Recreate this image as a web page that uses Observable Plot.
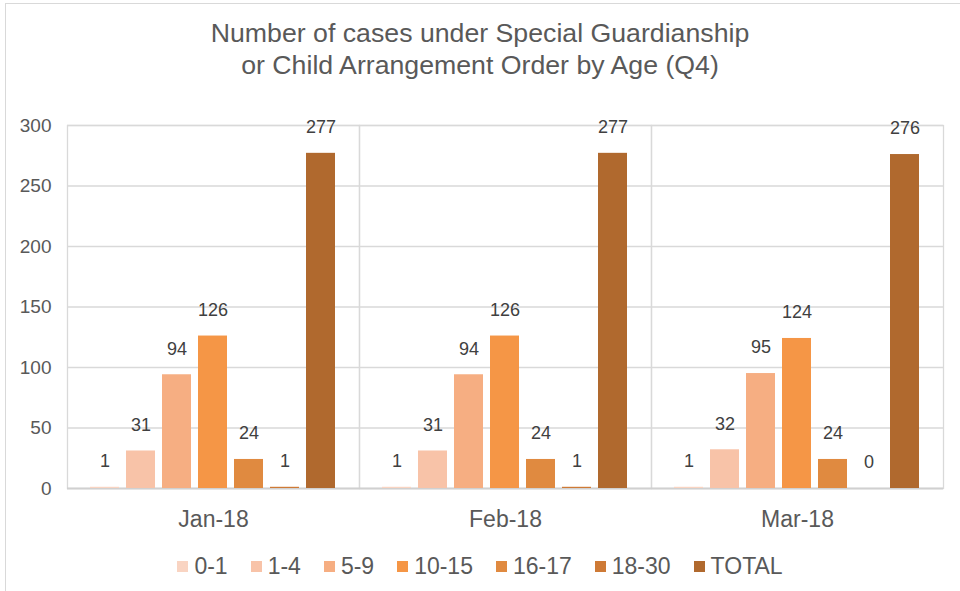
<!DOCTYPE html>
<html>
<head>
<meta charset="utf-8">
<script src="https://cdn.jsdelivr.net/npm/d3@7"></script>
<script src="https://cdn.jsdelivr.net/npm/@observablehq/plot@0.6"></script>
<style>
  html, body { margin: 0; padding: 0; background: #fff; overflow: hidden; }
  #wrap { position: relative; width: 960px; height: 591px; overflow: hidden; font-family: "Liberation Sans", Arial, sans-serif; }
  #border { position: absolute; left: 5px; top: 3px; width: 980px; height: 620px; border: 1px solid #d9d9d9; box-sizing: border-box; }
  #title { position: absolute; left: 0; top: 17px; width: 960px; text-align: center; font-size: 26.7px; line-height: 32px; color: #595959; }
  #chart { position: absolute; left: 0; top: 100px; }
  #legend { position: absolute; left: 0; top: 551px; width: 960px; height: 30px; display: flex; justify-content: center; align-items: center; font-size: 23px; color: #595959; }
  .item { display: flex; align-items: center; margin: 0 11.5px; }
  .sw { width: 11px; height: 11px; margin-right: 6px; }
</style>
</head>
<body>
<div id="wrap">
  <div id="border"></div>
  <div id="title">Number of cases under Special Guardianship<br>or Child Arrangement Order by Age (Q4)</div>
  <div id="chart"></div>
  <div id="legend"></div>
</div>
<script>
const months = ["Jan-18", "Feb-18", "Mar-18"];
const series = ["0-1", "1-4", "5-9", "10-15", "16-17", "18-30", "TOTAL"];
const colors = ["#F9D4C2", "#F8C3A8", "#F6AE82", "#F59646", "#E08A40", "#CE7A36", "#B0692E"];
const jan18 = [1, 31, 94, 126, 24, 1, 277];
const feb18 = [1, 31, 94, 126, 24, 1, 277];
const mar18 = [1, 32, 95, 124, 24, 0, 276];
const yTicks = [0, 50, 100, 150, 200, 250, 300];

const valuesByMonth = [jan18, feb18, mar18];
const data = [];
months.forEach((m, i) => series.forEach((s, j) => data.push({month: m, series: s, value: valuesByMonth[i][j]})));

const chart = Plot.plot({
  width: 960,
  height: 450,
  marginLeft: 66,
  marginRight: 16,
  marginTop: 25,
  marginBottom: 62,
  style: {fontFamily: "'Liberation Sans', Arial, sans-serif", background: "transparent"},
  fx: {domain: months, padding: 0, label: null},
  x: {domain: series, paddingInner: 0.19, paddingOuter: 0.57, axis: null},
  y: {domain: [0, 300], label: null},
  color: {domain: series, range: colors},
  marks: [
    Plot.gridY(yTicks.filter(d => d > 0), {stroke: "#d9d9d9", strokeOpacity: 1, strokeWidth: 1.3}),
    Plot.frame({stroke: "#d9d9d9", strokeWidth: 1.3}),
    Plot.ruleY([0], {stroke: "#d0d0d0", strokeWidth: 2}),
    Plot.barY(data, {fx: "month", x: "series", y: "value", fill: "series"}),
    Plot.text(data, {fx: "month", x: "series", y: "value", text: d => String(d.value), dy: -26, fill: "#404040", fontSize: 18, lineAnchor: "middle"}),
    Plot.axisY({ticks: yTicks, tickSize: 0, tickPadding: 16, fontSize: 19, color: "#595959", label: null}),
    Plot.axisFx({anchor: "bottom", tickSize: 0, tickPadding: 22, fontSize: 23, color: "#595959", label: null})
  ]
});
document.getElementById("chart").appendChild(chart);

const legend = document.getElementById("legend");
series.forEach((s, i) => {
  const it = document.createElement("div");
  it.className = "item";
  const sw = document.createElement("div");
  sw.className = "sw";
  sw.style.background = colors[i];
  const tx = document.createElement("span");
  tx.textContent = s;
  it.appendChild(sw);
  it.appendChild(tx);
  legend.appendChild(it);
});
</script>
</body>
</html>
